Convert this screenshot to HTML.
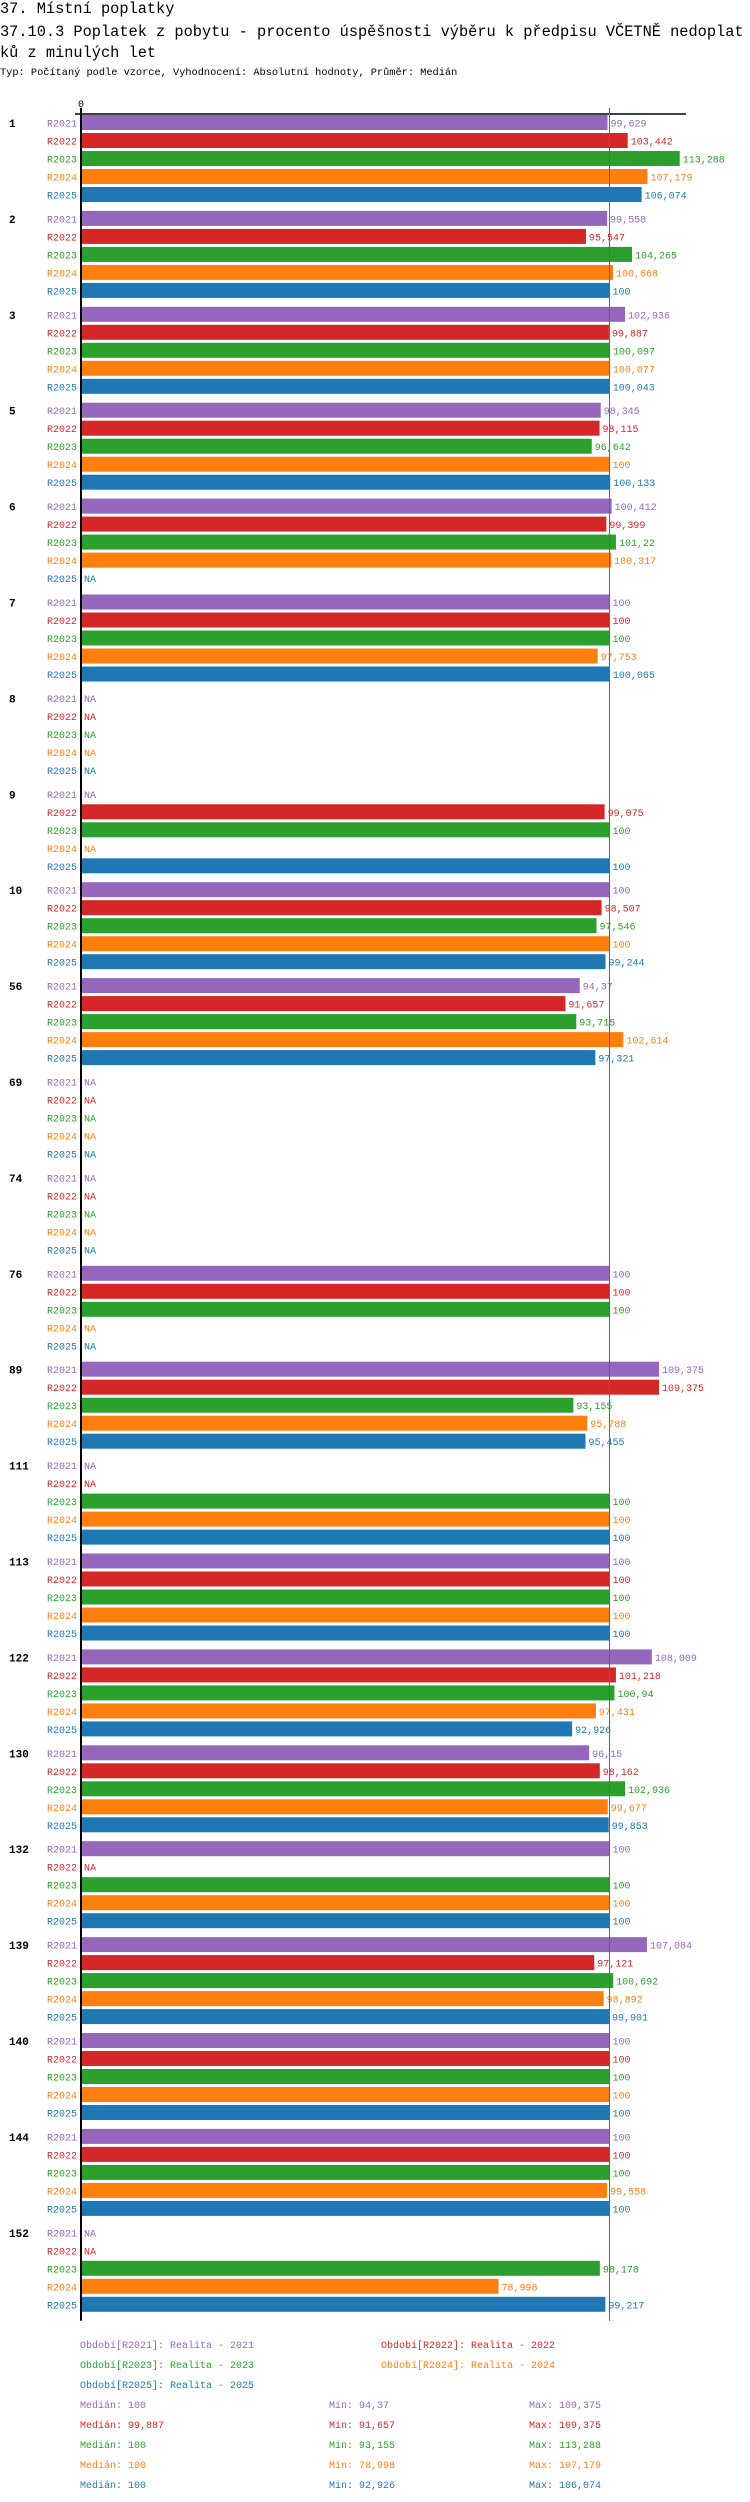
<!DOCTYPE html>
<html><head><meta charset="utf-8">
<style>
body{margin:0;background:#fff;width:750px;height:2502px;overflow:hidden;font-family:"Liberation Mono","DejaVu Sans Mono",monospace;}
.t{position:absolute;left:0;white-space:nowrap;color:#000;}
</style></head>
<body>
<div class="t" style="top:0px;font-size:15.3px;">37. Místní poplatky</div>
<div class="t" style="top:22px;font-size:15.3px;line-height:21px;">37.10.3 Poplatek z pobytu - procento úspěšnosti výběru k předpisu VČETNĚ nedoplat<br>ků z minulých let</div>
<div class="t" style="top:67px;font-size:10.3px;">Typ: Počítaný podle vzorce, Vyhodnocení: Absolutní hodnoty, Průměr: Medián</div>
<svg id="chart" width="750" height="2502" style="position:absolute;left:0;top:0" xmlns="http://www.w3.org/2000/svg" font-family="Liberation Mono, DejaVu Sans Mono, monospace"></svg>
<script>
const groups=["1","2","3","5","6","7","8","9","10","56","69","74","76","89","111","113","122","130","132","139","140","144","152"];
const seriesNames=["R2021","R2022","R2023","R2024","R2025"];
const colors=["#9467bd","#d62728","#2ca02c","#ff7f0e","#1f77b4"];
const r2021=[99.629,99.558,102.936,98.345,100.412,100,null,null,100,94.37,null,null,100,109.375,null,100,108.009,96.15,100,107.084,100,100,null];
const r2022=[103.442,95.547,99.887,98.115,99.399,100,null,99.075,98.507,91.657,null,null,100,109.375,null,100,101.218,98.162,null,97.121,100,100,null];
const r2023=[113.288,104.265,100.097,96.642,101.22,100,null,100,97.546,93.715,null,null,100,93.155,100,100,100.94,102.936,100,100.692,100,100,98.178];
const r2024=[107.179,100.668,100.077,100,100.317,97.753,null,null,100,102.614,null,null,null,95.788,100,100,97.431,99.677,100,98.892,100,99.558,78.998];
const r2025=[106.074,100,100.043,100.133,null,100.065,null,100,99.244,97.321,null,null,null,95.455,100,100,92.926,99.853,100,99.901,100,100,99.217];
const medianValue=100;
const legendTexts=["Období[R2021]: Realita - 2021","Období[R2022]: Realita - 2022","Období[R2023]: Realita - 2023","Období[R2024]: Realita - 2024","Období[R2025]: Realita - 2025"];
const medians=["100","99,887","100","100","100"];
const mins=["94,37","91,657","93,155","78,998","92,926"];
const maxs=["109,375","109,375","113,288","107,179","106,074"];

const series=[r2021,r2022,r2023,r2024,r2025];
const svg=document.getElementById('chart');
const NS="http://www.w3.org/2000/svg";
const X0=81, K=5.285, TOP=115, GP=95.9, BP=18, BH=15;
const x=v=>X0+v*K;
function mk(tag,attrs,txt){const e=document.createElementNS(NS,tag);for(const k in attrs)e.setAttribute(k,attrs[k]);if(txt!=null)e.textContent=txt;svg.appendChild(e);return e;}
function fmt(v){return String(v).replace('.',',');}
let e;
e=mk('line',{x1:75,y1:114,x2:686,y2:114,stroke:'#000','stroke-width':1.5});


e=mk('text',{x:X0,y:107,'font-size':10,'text-anchor':'middle'},'0');


groups.forEach((g,gi)=>{
  const gy=TOP+gi*GP;
  e=mk('text',{x:9,y:gy+12,'font-size':11,'font-weight':'bold'},g);
  
  
  series.forEach((s,si)=>{
    const y=gy+si*BP, v=s[gi];
    e=mk('text',{x:77,y:y+11.5,'font-size':10,'text-anchor':'end',fill:colors[si]},seriesNames[si]);
    
    
    if(v==null){
      e=mk('text',{x:X0+3,y:y+11.5,'font-size':10,fill:colors[si]},'NA');
      
      
    } else {
      e=mk('rect',{x:X0,y:y,width:x(v)-X0,height:BH,fill:colors[si]});
      
      
      e=mk('text',{x:x(v)+3,y:y+11.5,'font-size':10,fill:colors[si]},fmt(v));
      
      
    }
  });
});
const bottom=TOP+(groups.length-1)*GP+4*BP+BH+9;
e=mk('line',{x1:x(medianValue),y1:108,x2:x(medianValue),y2:bottom,stroke:'#1f77b4','stroke-width':1});


e=mk('line',{x1:X0,y1:108,x2:X0,y2:bottom,stroke:'#000','stroke-width':2});


const LY=2348;
legendTexts.forEach((t,i)=>{
  const lx=i%2===0?80:381, ly=LY+Math.floor(i/2)*20;
  e=mk('text',{x:lx,y:ly,'font-size':10,fill:colors[i]},t);
  
  
});
medians.forEach((m,i)=>{
  const ly=LY+60+i*20;
  e=mk('text',{x:80,y:ly,'font-size':10,fill:colors[i]},'Medián: '+m);
  
  
  e=mk('text',{x:329,y:ly,'font-size':10,fill:colors[i]},'Min: '+mins[i]);
  
  
  e=mk('text',{x:529,y:ly,'font-size':10,fill:colors[i]},'Max: '+maxs[i]);
  
  
});
</script>
</body></html>
